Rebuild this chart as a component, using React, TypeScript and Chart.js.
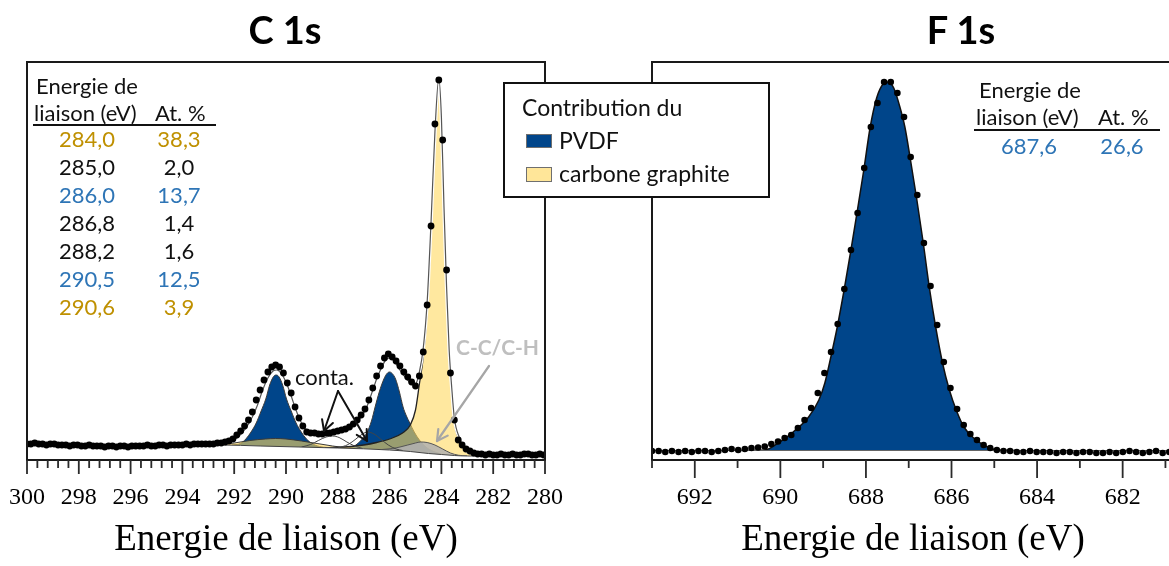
import React, { useEffect, useRef } from 'react';
import { Chart, registerables } from 'chart.js';

Chart.register(...registerables);

// ================= C 1s =================
const c1sStartEV = 300;
const c1sStepEV = 0.15;
const c1sCounts = [
  16, 16, 17, 16, 16, 15, 16, 16, 15, 15,
  15, 14, 15, 15, 14, 14, 15, 14, 14, 14,
  13, 14, 14, 13, 14, 14, 13, 14, 14, 14,
  14, 15, 14, 14, 15, 15, 14, 15, 15, 15,
  15, 16, 15, 16, 16, 16, 16,
  16, 16, 17, 17, 18, 19,
  21, 25, 29, 34, 40, 48, 60, 70, 80, 88,
  93, 95, 93, 87, 77, 67, 53, 42, 34, 28,
  27, 27, 26, 26, 27, 27, 28, 29, 30, 31,
  33, 36, 40, 45, 51, 60, 72, 84, 94, 102,
  106, 103, 99, 94, 88, 83, 78, 74, 84, 108,
  155, 234, 336, 380, 320, 190, 87, 40, 20, 15,
  11, 9, 7,
  6, 6, 5, 6, 5, 5, 6, 5, 5, 6, 5, 5, 6, 6, 5, 5, 6, 5,
];
const c1sBackground = [
  [300, 15], [292.5, 15], [291, 14], [289.5, 13], [288, 12], [287, 11.2], [286, 10],
  [285.2, 8.5], [284.5, 6.5], [284, 5.5], [283.5, 4.5], [283, 4], [280, 4],
];
const c1sGraphiteMain = [
  [288.5, 12.3], [287.5, 13.5], [287.0, 15], [286.5, 17.5], [286.0, 21], [285.5, 27],
  [285.2, 35], [285.0, 50], [284.85, 76], [284.7, 103], [284.55, 150], [284.4, 230],
  [284.25, 322], [284.1, 377], [284.0, 338], [283.9, 250], [283.8, 168], [283.7, 106],
  [283.6, 68], [283.5, 39], [283.3, 19], [283.1, 9.5], [282.8, 5], [282.5, 4],
];
const c1sGraphiteShake = [
  [293.2, 15], [292.6, 15.5], [292.0, 17], [291.4, 19.5], [290.8, 21], [290.4, 21.5],
  [290.0, 21], [289.4, 19], [288.8, 16.5], [288.2, 14], [287.6, 12], [287.2, 11.3],
];
const c1sPvdfCF2 = [
  [292.1, 15], [291.76, 16.5], [291.55, 21], [291.35, 28], [291.15, 37], [290.96, 49],
  [290.78, 61], [290.63, 75], [290.48, 83.5], [290.38, 85], [290.28, 83.5], [290.13, 75],
  [289.98, 61], [289.8, 49], [289.61, 37], [289.41, 28], [289.21, 21], [289.0, 16.5],
  [288.7, 13.5], [288.4, 12.5],
];
const c1sPvdfCH2 = [
  [287.6, 11.6], [287.3, 15], [287.09, 20], [286.88, 27], [286.7, 39], [286.56, 53],
  [286.4, 68], [286.22, 81], [286.1, 86.5], [286.0, 88], [285.9, 86.5], [285.77, 81],
  [285.62, 68], [285.48, 53], [285.35, 44], [285.22, 37], [285.05, 28], [284.85, 20],
  [284.6, 13], [284.3, 8.5], [284.0, 6],
];
const c1sCCCH = [
  [286.3, 10.5], [285.9, 11.5], [285.6, 13], [285.3, 15], [285.0, 17], [284.8, 18],
  [284.55, 17.5], [284.25, 15], [283.95, 11], [283.65, 7], [283.35, 4.8], [283.0, 4],
];
const c1sConta2868 = [
  [288.0, 12], [287.6, 15.5], [287.3, 21], [287.05, 26], [286.85, 28], [286.6, 26],
  [286.35, 21], [286.05, 15], [285.75, 11], [285.5, 9.5],
];
const c1sConta2882 = [
  [289.4, 13], [289.05, 15.5], [288.75, 19.5], [288.45, 23], [288.2, 24], [287.95, 22.5],
  [287.65, 18], [287.35, 14], [287.05, 11.5],
];
const c1sEnvelope = [
  [300, 15], [292.6, 16], [292.2, 18], [291.9, 22], [291.6, 30], [291.3, 43], [291.1, 55],
  [290.9, 70], [290.7, 82], [290.5, 89], [290.35, 90], [290.2, 87], [290.0, 78], [289.8, 64],
  [289.6, 49], [289.4, 37], [289.2, 30], [289.0, 27], [288.75, 26], [288.45, 28], [288.15, 29],
  [287.85, 30], [287.55, 32], [287.3, 37], [287.1, 43], [286.9, 52], [286.7, 66], [286.5, 81],
  [286.3, 93], [286.15, 100], [286.0, 102], [285.85, 100], [285.7, 94], [285.5, 86], [285.3, 80],
  [285.15, 76], [285.0, 76], [284.85, 88], [284.7, 112], [284.55, 158], [284.4, 238],
  [284.25, 328], [284.1, 382], [284.0, 343], [283.9, 253], [283.8, 173], [283.7, 110],
  [283.6, 72], [283.5, 42], [283.3, 22], [283.1, 11], [282.75, 6], [282.4, 5], [280, 4.5],
];
const c1sTickValues = [300, 298, 296, 294, 292, 290, 288, 286, 284, 282, 280];
const c1sMinorStep = 0.4;

// ================= F 1s =================
const f1sStartEV = 693;
const f1sStepEV = 0.155;
const f1sCounts = [
  9, 9, 8, 9, 8, 9, 8, 9, 9, 8,
  9, 10, 11, 10, 11,
  12, 12.5, 13.5, 16, 18.5, 22, 25, 32, 40, 52,
  67, 87, 108, 136, 171, 210, 247, 292, 333, 357,
  378, 378, 367, 343, 303, 265, 217, 174, 135, 98,
  72, 51, 35, 26, 20, 15, 12, 10,
  9, 9, 8, 8, 9, 8, 8, 8, 7, 8,
  8, 7, 8, 8, 7, 7, 8, 7, 8, 9,
  8, 7, 8, 9, 7, 8, 7, 7, 8, 7, 7,
];
const f1sPvdf = [
  [691.0, 9.5], [690.36, 10], [690.05, 17], [689.73, 27], [689.34, 43], [689.1, 60],
  [688.96, 77], [688.82, 103], [688.67, 133], [688.51, 170], [688.35, 210], [688.21, 247],
  [688.05, 290], [687.9, 333], [687.75, 362], [687.6, 376], [687.49, 378], [687.35, 372],
  [687.2, 352], [687.09, 333], [686.97, 303], [686.82, 263], [686.66, 217], [686.52, 173],
  [686.37, 133], [686.21, 97], [686.05, 70], [685.89, 50], [685.71, 33], [685.48, 22],
  [685.16, 13], [684.93, 10], [684.5, 9.5],
];
const f1sBackground = [[693, 9.5], [680.8, 9.5]];
const f1sTickValues = [692, 690, 688, 686, 684, 682];
const f1sMinorTicks = [693, 691, 689, 687, 685, 683, 681];

// ================= Tables =================
const c1sTableEnergy = ['284,0', '285,0', '286,0', '286,8', '288,2', '290,5', '290,6'];
const c1sTableAt = ['38,3', '2,0', '13,7', '1,4', '1,6', '12,5', '3,9'];
const c1sTableKind = ['graphite', 'conta', 'pvdf', 'conta', 'conta', 'pvdf', 'graphite'];
const f1sTableEnergy = ['687,6'];
const f1sTableAt = ['26,6'];
const f1sTableKind = ['pvdf'];

// ================= Styles =================
const NAVY = '#00458A';
const YELLOW_FILL = 'rgba(255, 217, 95, 0.6)';
const LEGEND_YELLOW = '#FFE699';
const GRAY_FILL = 'rgba(178, 178, 178, 0.85)';
const KIND_COLOR: Record<string, string> = { graphite: '#BF9000', pvdf: '#2E75B6', conta: '#111111' };

const pairsToXY = (pairs: number[][]) => pairs.map(([x, y]) => ({ x, y }));
const gridToXY = (start: number, step: number, vals: number[]) =>
  vals.map((y, i) => ({ x: +(start - step * i).toFixed(3), y }));

function makeFramePlugin(major: number[], minor: number[], majorLen: number, minorLen: number) {
  return {
    id: 'frameTicks',
    afterDatasetsDraw(chart: any) {
      const { ctx, chartArea } = chart;
      const { left, top, right, bottom } = chartArea;
      const x = chart.scales.x;
      ctx.save();
      ctx.strokeStyle = '#1a1a1a';
      ctx.lineWidth = 2;
      ctx.strokeRect(left, top, right - left, bottom - top);
      ctx.lineWidth = 1.8;
      ctx.strokeStyle = '#2a2a2a';
      ctx.beginPath();
      for (const v of minor) {
        const px = x.getPixelForValue(v);
        ctx.moveTo(px, bottom);
        ctx.lineTo(px, bottom + minorLen);
      }
      for (const v of major) {
        const px = x.getPixelForValue(v);
        ctx.moveTo(px, bottom);
        ctx.lineTo(px, bottom + majorLen);
      }
      ctx.stroke();
      ctx.restore();
    },
  };
}

function xScale(min: number, max: number, ticks: number[]) {
  return {
    type: 'linear',
    min,
    max,
    reverse: true,
    grid: { display: false, drawTicks: false },
    border: { display: false },
    afterBuildTicks: (s: any) => {
      s.ticks = ticks.map((v) => ({ value: v }));
    },
    afterFit: (s: any) => {
      s.height = 106;
    },
    ticks: {
      autoSkip: false,
      maxRotation: 0,
      padding: 23,
      color: '#000',
      font: { family: 'Liberation Serif', size: 24 },
      callback: (v: any) => String(v),
    },
    title: {
      display: true,
      text: 'Energie de liaison (eV)',
      color: '#000',
      font: { family: 'Liberation Serif', size: 37 },
      padding: { top: 0, bottom: 4 },
    },
  };
}

const baseOptions = (padLeft: number, padRight: number, x: any) => ({
  animation: false,
  responsive: false,
  devicePixelRatio: 1,
  events: [],
  layout: { padding: { left: padLeft, right: padRight, top: 62, bottom: 0 } },
  plugins: { legend: { display: false }, tooltip: { enabled: false }, title: { display: false } },
  scales: {
    x,
    y: { type: 'linear', display: false, min: 0, max: 398 },
  },
});

const comp = (pairs: number[][], fill: string, order: number, border = '#3a3a3a', bw = 1) => ({
  data: pairsToXY(pairs),
  borderColor: border,
  borderWidth: bw,
  backgroundColor: fill,
  fill: 'origin',
  pointRadius: 0,
  cubicInterpolationMode: 'monotone',
  order,
});

function makeC1sConfig() {
  const minor: number[] = [];
  for (let i = 0; i <= 50; i++) minor.push(300 - c1sMinorStep * i);
  return {
    type: 'line',
    data: {
      datasets: [
        comp(c1sPvdfCF2, NAVY, 10),
        comp(c1sPvdfCH2, NAVY, 9),
        comp(c1sGraphiteShake, YELLOW_FILL, 8),
        comp(c1sGraphiteMain, YELLOW_FILL, 7, '#222', 1.3),
        comp(c1sCCCH, GRAY_FILL, 6, '#555'),
        comp(c1sConta2882, 'rgba(255,255,255,0)', 5, '#444'),
        comp(c1sConta2868, 'rgba(255,255,255,0)', 4, '#444'),
        comp(c1sBackground, '#ffffff', 3, '#444', 1),
        { data: pairsToXY(c1sEnvelope), borderColor: '#ffffff', borderWidth: 3.5, pointRadius: 0, fill: false, cubicInterpolationMode: 'monotone', order: 2 },
        { data: pairsToXY(c1sEnvelope), borderColor: '#555555', borderWidth: 1.2, pointRadius: 0, fill: false, cubicInterpolationMode: 'monotone', order: 1 },
        {
          data: gridToXY(c1sStartEV, c1sStepEV, c1sCounts),
          showLine: false,
          pointRadius: 3.4,
          pointBackgroundColor: '#000',
          pointBorderWidth: 0,
          order: 0,
        },
      ],
    },
    // canvas is placed at left -14: chart area spans page x 26..548
    options: baseOptions(40, 38, xScale(280, 300, c1sTickValues)),
    plugins: [makeFramePlugin(c1sTickValues, minor, 14, 8)],
  };
}

function makeF1sConfig() {
  return {
    type: 'line',
    data: {
      datasets: [
        comp(f1sPvdf, NAVY, 3, '#111', 1.5),
        comp(f1sBackground, '#ffffff', 2, '#666', 1),
        {
          data: gridToXY(f1sStartEV, f1sStepEV, f1sCounts),
          showLine: false,
          pointRadius: 3.3,
          pointBackgroundColor: '#000',
          pointBorderWidth: 0,
          order: 0,
        },
      ],
    },
    options: baseOptions(52, 46, xScale(680.8, 693, f1sTickValues)),
    plugins: [makeFramePlugin(f1sTickValues, f1sMinorTicks, 18, 8)],
  };
}

function Txt({ x, y, children, align = 'left', size = 22, color = '#111', weight = 400 }: any) {
  return (
    <div
      style={{
        position: 'absolute',
        left: x,
        top: y,
        transform: `translate(${align === 'center' ? '-50%' : '0'}, -50%)`,
        whiteSpace: 'nowrap',
        fontFamily: 'Lato, sans-serif',
        fontSize: size,
        lineHeight: 1.2,
        color,
        fontWeight: weight,
      }}
    >
      {children}
    </div>
  );
}

function Arrow({ x1, y1, x2, y2, color, width = 2, head = 12 }: any) {
  const a = Math.atan2(y2 - y1, x2 - x1);
  const s = 0.5;
  const p1 = [x2 - head * Math.cos(a - s), y2 - head * Math.sin(a - s)];
  const p2 = [x2 - head * Math.cos(a + s), y2 - head * Math.sin(a + s)];
  return (
    <g stroke={color} strokeWidth={width} fill="none" strokeLinecap="round" strokeLinejoin="round">
      <line x1={x1} y1={y1} x2={x2} y2={y2} />
      <polyline points={`${p1[0]},${p1[1]} ${x2},${y2} ${p2[0]},${p2[1]}`} />
    </g>
  );
}

export default function App() {
  const leftRef = useRef<HTMLCanvasElement>(null);
  const rightRef = useRef<HTMLCanvasElement>(null);

  useEffect(() => {
    const l = new Chart(leftRef.current as HTMLCanvasElement, makeC1sConfig() as any);
    const r = new Chart(rightRef.current as HTMLCanvasElement, makeF1sConfig() as any);
    return () => {
      l.destroy();
      r.destroy();
    };
  }, []);

  return (
    <div style={{ position: 'fixed', left: 0, top: 0, width: 1169, height: 566, overflow: 'hidden', background: '#fff' }}>
      <canvas ref={leftRef} width={600} height={566} style={{ position: 'absolute', left: -14, top: 0, width: 600, height: 566 }} />
      <canvas ref={rightRef} width={620} height={566} style={{ position: 'absolute', left: 600, top: 0, width: 620, height: 566 }} />

      {/* panel titles */}
      <Txt x={285} y={30} align="center" size={38} weight={700} color="#000">C 1s</Txt>
      <Txt x={961} y={30} align="center" size={38} weight={700} color="#000">F 1s</Txt>

      {/* C 1s table */}
      <Txt x={36} y={86}>Energie de</Txt>
      <Txt x={34} y={113}>liaison (eV)</Txt>
      <Txt x={155} y={113}>At. %</Txt>
      <div style={{ position: 'absolute', left: 33, top: 124, width: 183, height: 2, background: '#111' }} />
      {c1sTableEnergy.map((e, i) => (
        <React.Fragment key={'c' + i}>
          <Txt x={87} y={139 + 28 * i} align="center" color={KIND_COLOR[c1sTableKind[i]]}>{e}</Txt>
          <Txt x={179} y={139 + 28 * i} align="center" color={KIND_COLOR[c1sTableKind[i]]}>{c1sTableAt[i]}</Txt>
        </React.Fragment>
      ))}

      {/* F 1s table */}
      <Txt x={979} y={90}>Energie de</Txt>
      <Txt x={976} y={117}>liaison (eV)</Txt>
      <Txt x={1098} y={117}>At. %</Txt>
      <div style={{ position: 'absolute', left: 974, top: 129, width: 186, height: 2, background: '#111' }} />
      {f1sTableEnergy.map((e, i) => (
        <React.Fragment key={'f' + i}>
          <Txt x={1029} y={146 + 28 * i} align="center" color={KIND_COLOR[f1sTableKind[i]]}>{e}</Txt>
          <Txt x={1122} y={146 + 28 * i} align="center" color={KIND_COLOR[f1sTableKind[i]]}>{f1sTableAt[i]}</Txt>
        </React.Fragment>
      ))}

      {/* annotations */}
      <svg width={1169} height={566} style={{ position: 'absolute', left: 0, top: 0, pointerEvents: 'none' }}>
        <Arrow x1={338} y1={391} x2={324} y2={431} color="#111" width={2} />
        <Arrow x1={338} y1={391} x2={367} y2={441} color="#111" width={2} />
        <Arrow x1={489} y1={366} x2={437} y2={441} color="#A6A6A6" width={2.2} />
      </svg>
      <Txt x={295} y={377}>conta.</Txt>
      <Txt x={456} y={347} size={21} weight={700} color="#BFBFBF">C-C/C-H</Txt>

      {/* legend box */}
      <div
        style={{
          position: 'absolute',
          left: 503,
          top: 82,
          width: 267,
          height: 116,
          boxSizing: 'border-box',
          border: '2px solid #111',
          background: '#fff',
        }}
      />
      <Txt x={522} y={108} size={23}>Contribution du</Txt>
      <div style={{ position: 'absolute', left: 526, top: 134, width: 26, height: 14, boxSizing: 'border-box', background: NAVY, border: '1.5px solid #6f6f6f' }} />
      <Txt x={559} y={141} size={23}>PVDF</Txt>
      <div style={{ position: 'absolute', left: 526, top: 167, width: 26, height: 15, boxSizing: 'border-box', background: LEGEND_YELLOW, border: '1.5px solid #6f6f6f' }} />
      <Txt x={559} y={174} size={23}>carbone graphite</Txt>
    </div>
  );
}
